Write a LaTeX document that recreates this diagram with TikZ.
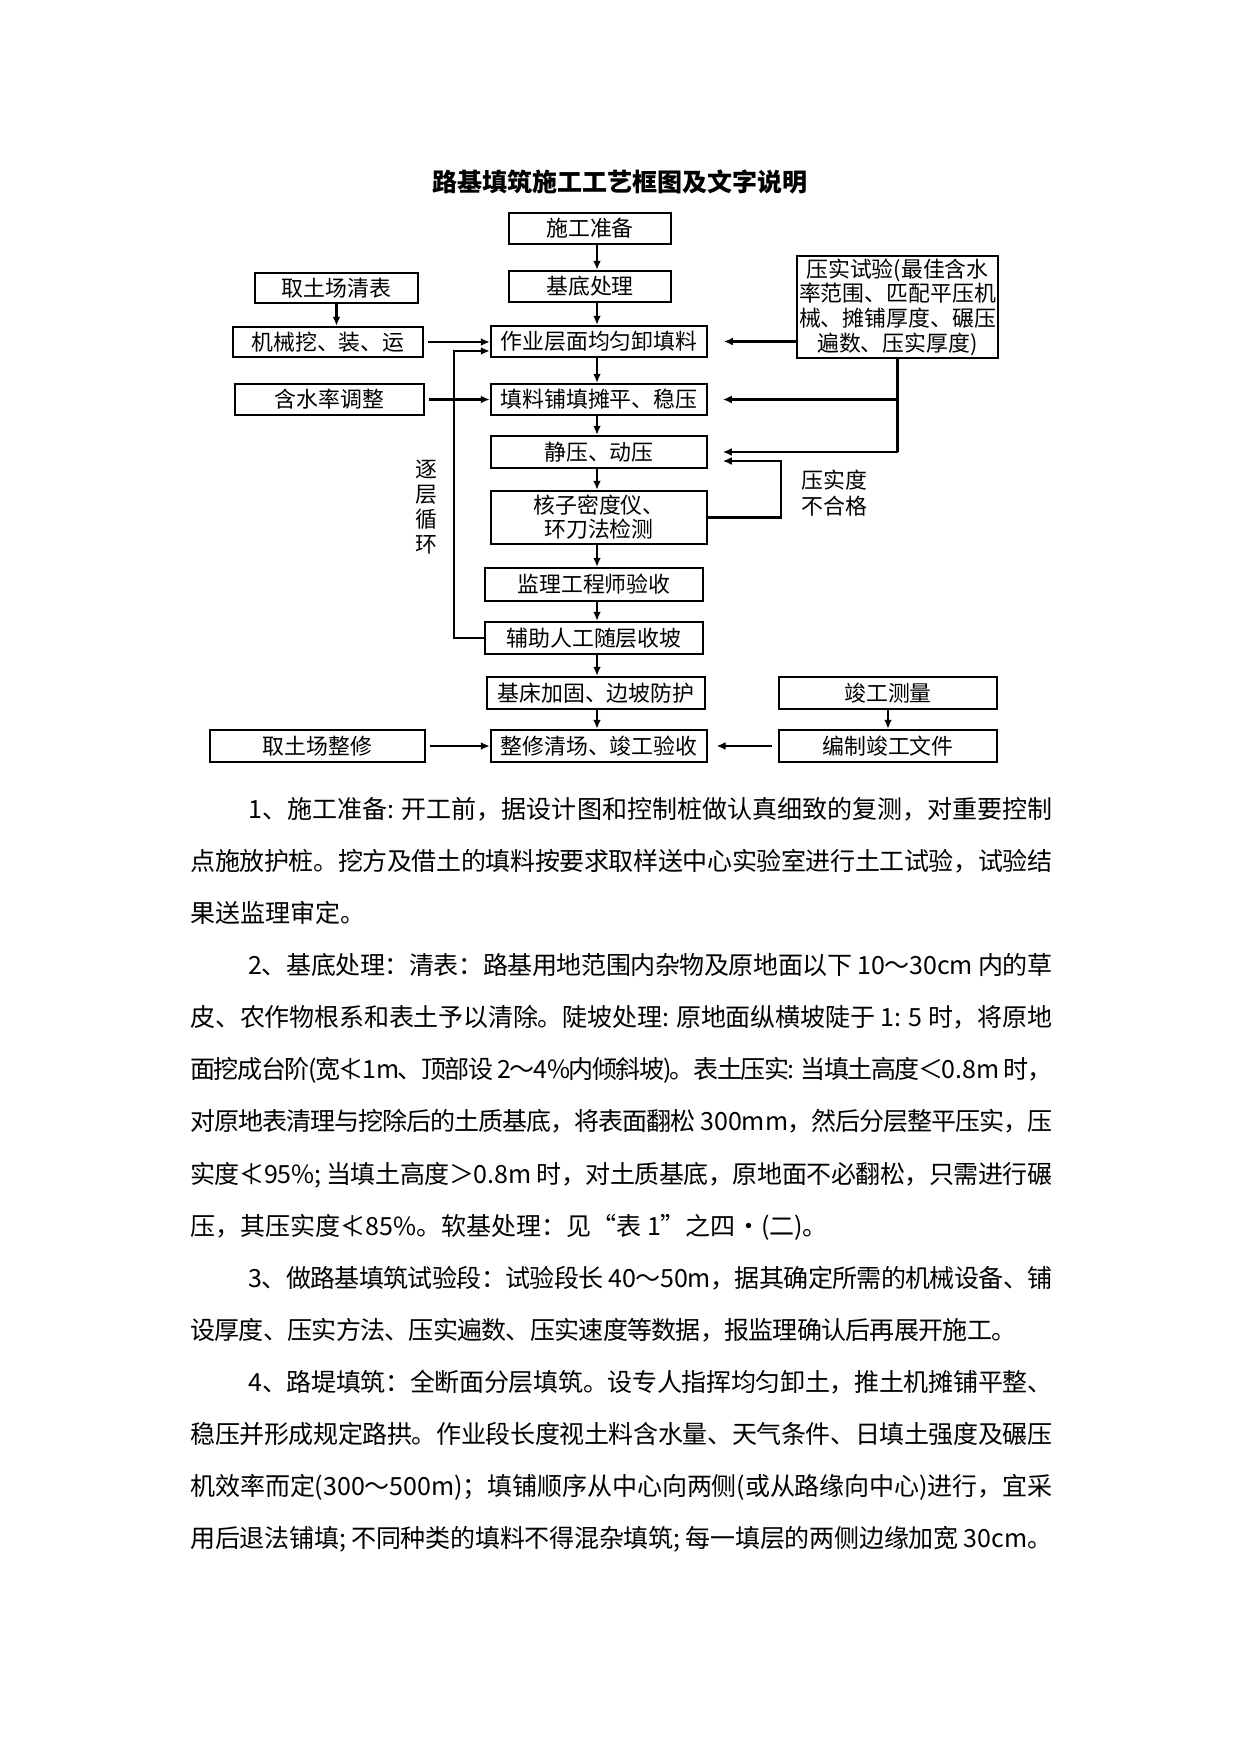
\documentclass[tikz,border=0pt]{standalone}
\usepackage{fontspec}
\setmainfont{Noto Sans CJK SC}
\usetikzlibrary{arrows.meta,calc}

\def\spreadline#1#2{\hbox to #1{\spreadB#2\relax}}
\def\spreadB#1{#1\spreadA}
\def\spreadA#1{\ifx\relax#1\else\hss#1\expandafter\spreadA\fi}
% box: name, x1, y1, x2, y2, extra options, text
\newcommand\bx[7]{\node[box,minimum width={(#4-#2)*0.4797pt},minimum height={(#5-#3)*0.4797pt},#6] (#1) at ({(#2+#4)/2},{(#3+#5)/2}) {#7};}

\begin{document}
\begin{tikzpicture}[x=0.4797pt,y=-0.4797pt,
  box/.style={draw,line width=1.2pt,inner sep=0pt,align=center,
    font=\fontsize{10.5}{12}\selectfont},
  arr/.style={line width=1pt,-{Latex[length=4.3pt,width=3.8pt]}},
  ln/.style={line width=1pt},
  lbl/.style={inner sep=0pt,font=\fontsize{10.5}{12}\selectfont},
  body/.style={anchor=base west,inner sep=0pt,font=\fontsize{12}{14}\selectfont}]
\useasboundingbox (0,0) rectangle (1241,1754);
\fill[white] (0,0) rectangle (1241,1754);

% title
\node[inner sep=0pt,font=\fontsize{12}{14}\selectfont\bfseries] (title) at (620,182) {路基填筑施工工艺框图及文字说明};

% boxes
\bx{prep}{509}{213}{671}{244}{}{施工准备}
\bx{base}{509}{271}{671}{302}{}{基底处理}
\bx{qt}{255}{273}{418}{303}{}{取土场清表}
\bx{jx}{233}{327}{423}{357}{}{机械挖、装、运}
\bx{zy}{491}{326}{707}{357}{}{作业层面均匀卸填料}
\bx{ys}{797}{256}{998}{358}{font=\fontsize{10.5}{11.8}\selectfont}{压实试验(最佳含水\\率范围、匹配平压机\\械、摊铺厚度、碾压\\遍数、压实厚度)}
\bx{hs}{235}{384}{424}{415}{}{含水率调整}
\bx{tl}{491}{384}{707}{415}{}{填料铺填摊平、稳压}
\bx{jy}{491}{436}{707}{468}{}{静压、动压}
\bx{hz}{491}{491}{707}{544}{font=\fontsize{10.5}{11.6}\selectfont}{核子密度仪、\\环刀法检测}
\bx{jl}{485}{568}{703}{601}{}{监理工程师验收}
\bx{fz}{485}{622}{703}{654}{}{辅助人工随层收坡}
\bx{jc}{487}{677}{705}{709}{}{基床加固、边坡防护}
\bx{jgcl}{779}{677}{997}{709}{}{竣工测量}
\bx{qtzx}{210}{730}{425}{762}{}{取土场整修}
\bx{zxqc}{491}{730}{707}{762}{}{整修清场、竣工验收}
\bx{bz}{779}{730}{997}{762}{}{编制竣工文件}

% labels
\node[lbl,align=center] (zc) at (426,507) {逐\\层\\循\\环};
\node[lbl,align=left,anchor=west,font=\fontsize{10.5}{12.5}\selectfont] (bhg) at (801,493) {压实度\\不合格};

% connectors
\coordinate (sp) at (597,0);
\coordinate (fb) at (781,461);
\coordinate (lp) at (454,351);
\draw[arr] (prep.south -| sp) -- (base.north -| sp);
\draw[arr] (base.south -| sp) -- (zy.north -| sp);
\draw[arr] (zy.south -| sp) -- (tl.north -| sp);
\draw[arr] (tl.south -| sp) -- (jy.north -| sp);
\draw[arr] (jy.south -| sp) -- (hz.north -| sp);
\draw[arr] (hz.south -| sp) -- (jl.north -| sp);
\draw[arr] (jl.south -| sp) -- (fz.north -| sp);
\draw[arr] (fz.south -| sp) -- (jc.north -| sp);
\draw[arr] (jc.south -| sp) -- (zxqc.north -| sp);

\draw[arr] (qt.south) -- (qt.south |- jx.north);
\draw[arr,shorten <=2pt] (jx.east) -- (jx.east -| zy.west);
\draw[arr,shorten >=7.5pt] (zy.east -| ys.west) -- (zy.east);
\draw[ln] (ys.south) -- (ys.south |- jy.east);
\draw[arr,shorten >=7pt] (ys.south |- tl.east) -- (tl.east);
\draw[arr,shorten >=7pt] (ys.south |- jy.east) -- (jy.east);
\draw[arr,shorten >=7pt] (hz.east) -| (fb) -- (fb -| jy.east);
\draw[arr] (fz.west) -| (lp) -- (lp -| zy.west);
\draw[arr,shorten <=2pt] (hs.east) -- (hs.east -| tl.west);
\draw[arr,shorten <=2pt] (qtzx.east) -- (qtzx.east -| zxqc.west);
\draw[arr,shorten >=4pt,shorten <=3pt] (bz.west) -- (bz.west -| zxqc.east);
\draw[arr] (jgcl.south) -- (jgcl.south |- bz.north);

% body text
\node[body] (l1) at (248,818) {\spreadline{385.7pt}{1、施工准备{: }开工前，据设计图和控制桩做认真细致的复测，对重要控制}};
\node[body] (l2) at (190,870) {\spreadline{413.5pt}{点施放护桩。挖方及借土的填料按要求取样送中心实验室进行土工试验，试验结}};
\node[body] (l3) at (190,922) {果送监理审定。};
\node[body] (l4) at (248,974) {\spreadline{385.7pt}{2、基底处理：清表：路基用地范围内杂物及原地面以下{ 10}～{30cm }内的草}};
\node[body] (l5) at (190,1026) {\spreadline{413.5pt}{皮、农作物根系和表土予以清除。陡坡处理{: }原地面纵横坡陡于{ 1: 5 }时，将原地}};
\node[body] (l6) at (190,1078) {\spreadline{413.5pt}{面挖成台阶{(}宽≮{1m}、顶部设{ 2}～{4\%}内倾斜坡{)}。表土压实{: }当填土高度＜{0.8m }时，}};
\node[body] (l7) at (190,1130) {\spreadline{413.5pt}{对原地表清理与挖除后的土质基底，将表面翻松{ 300mm}，然后分层整平压实，压}};
\node[body] (l8) at (190,1183) {\spreadline{413.5pt}{实度≮{95\%}{; }当填土高度＞{0.8m }时，对土质基底，原地面不必翻松，只需进行碾}};
\node[body] (l9) at (190,1235) {压，其压实度≮85\%。软基处理：见“表 1”之四·(二)。};
\node[body] (l10) at (248,1287) {\spreadline{385.7pt}{3、做路基填筑试验段：试验段长{ 40}～{50m}，据其确定所需的机械设备、铺}};
\node[body] (l11) at (190,1339) {\spreadline{396.2pt}{设厚度、压实方法、压实遍数、压实速度等数据，报监理确认后再展开施工。}};
\node[body] (l12) at (248,1391) {\spreadline{385.7pt}{4、路堤填筑：全断面分层填筑。设专人指挥均匀卸土，推土机摊铺平整、}};
\node[body] (l13) at (190,1443) {\spreadline{413.5pt}{稳压并形成规定路拱。作业段长度视土料含水量、天气条件、日填土强度及碾压}};
\node[body] (l14) at (190,1495) {\spreadline{413.5pt}{机效率而定{(300}～{500m)}；填铺顺序从中心向两侧{(}或从路缘向中心{)}进行，宜采}};
\node[body] (l15) at (190,1547) {\spreadline{413.5pt}{用后退法铺填{; }不同种类的填料不得混杂填筑{; }每一填层的两侧边缘加宽{ 30cm}。}};
\end{tikzpicture}
\end{document}
